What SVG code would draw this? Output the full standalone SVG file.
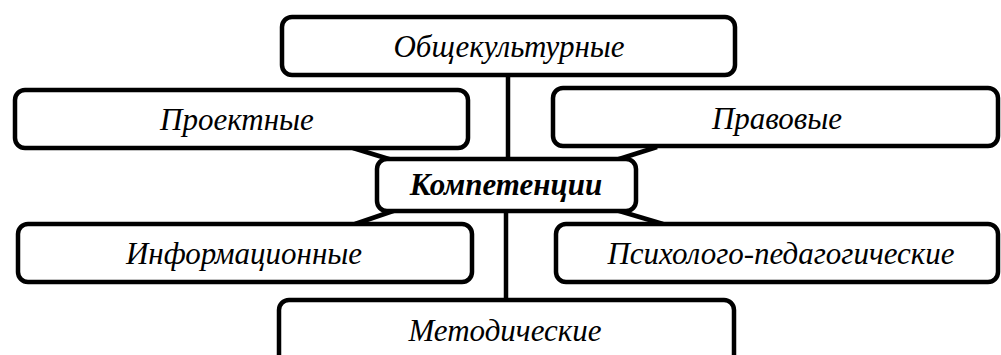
<svg xmlns="http://www.w3.org/2000/svg" width="1001" height="355" viewBox="0 0 1001 355">
<style>
.box{fill:#fff;stroke:#000;stroke-width:4.5}
.t{font-family:"Liberation Serif","DejaVu Serif",serif;font-style:italic;font-size:31px;fill:#000;text-anchor:middle}
.b{font-weight:bold}
.c{stroke:#000;stroke-width:4.5;fill:none}
</style>
<g id="connectors">
<line class="c" x1="508" y1="75" x2="508" y2="160"/>
<line class="c" x1="506" y1="210" x2="506" y2="301"/>
<line class="c" x1="353" y1="148" x2="392" y2="160"/>
<line class="c" x1="657" y1="147" x2="616" y2="160"/>
<line class="c" x1="355" y1="224" x2="396" y2="210"/>
<line class="c" x1="663" y1="224" x2="616" y2="210"/>
</g>
<g id="n-obsch"><rect class="box" x="282" y="17" width="453" height="58" rx="10"/><text class="t" x="509" y="57">Общекультурные</text></g>
<g id="n-proekt"><rect class="box" x="15" y="90" width="453" height="58" rx="10"/><text class="t" x="237" y="130">Проектные</text></g>
<g id="n-pravo"><rect class="box" x="553" y="88" width="445" height="58" rx="10"/><text class="t" x="777" y="129">Правовые</text></g>
<g id="n-komp"><rect class="box" x="377" y="159" width="259" height="52" rx="10"/><text class="t b" x="506" y="195">Компетенции</text></g>
<g id="n-inform"><rect class="box" x="18" y="224" width="454" height="58" rx="10"/><text class="t" x="244" y="264">Информационные</text></g>
<g id="n-psych"><rect class="box" x="556" y="224" width="442" height="58" rx="10"/><text class="t" x="781" y="264">Психолого-педагогические</text></g>
<g id="n-metod"><rect class="box" x="279" y="300" width="455" height="80" rx="10"/><text class="t" x="505" y="341">Методические</text></g>
</svg>
